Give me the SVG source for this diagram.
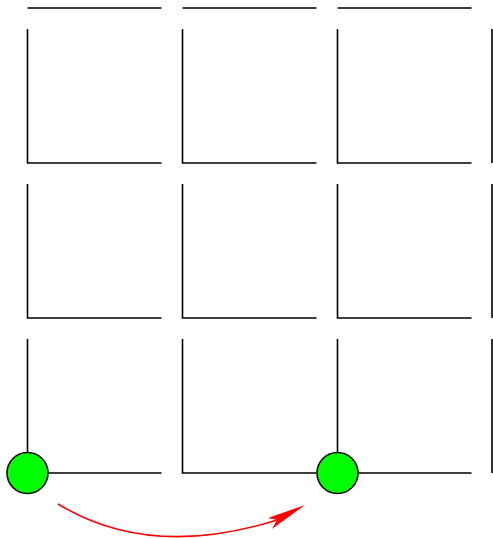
<svg xmlns="http://www.w3.org/2000/svg" width="493" height="538" viewBox="0 0 493 538">
<style>
.g{stroke:#000;stroke-width:1.6;fill:none;stroke-linecap:butt}
.n{fill:#00ff00;stroke:#000;stroke-width:1.6}
.a{stroke:#ff0000;stroke-width:1.6;fill:none}
</style>
<rect width="493" height="538" fill="#fff"/>
<g id="grid" class="g">
<path d="M27.5,8H161.5M182.5,8H316.5M337.5,8H471.5"/>
<path d="M27.5,29V163H161.5M182.5,29V163H316.5M337.5,29V163H471.5M492,29V163"/>
<path d="M27.5,184V318H161.5M182.5,184V318H316.5M337.5,184V318H471.5M492,184V318"/>
<path d="M27.5,339V473H161.5M182.5,339V473H316.5M337.5,339V473H471.5M492,339V473"/>
</g>
<g id="connectors">
<path class="a" d="M58,504 Q150,560 277,520"/>
<polygon points="305,505 268,518 277,520 272,529" fill="#ff0000"/>
</g>
<g id="node1"><circle class="n" cx="27.5" cy="473" r="20.5"/></g>
<g id="node2"><circle class="n" cx="337.5" cy="473" r="20.5"/></g>
</svg>
